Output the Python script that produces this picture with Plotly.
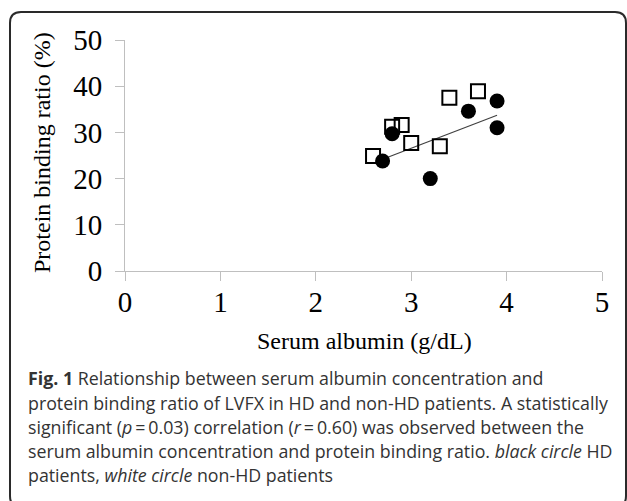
import plotly.graph_objects as go

# ---- data ----
hd_albumin = [2.7, 2.8, 3.2, 3.6, 3.9, 3.9]
hd_binding = [23.8, 29.7, 20.0, 34.6, 36.8, 31.0]
nonhd_albumin = [2.6, 2.8, 2.9, 3.0, 3.3, 3.4, 3.7]
nonhd_binding = [24.9, 31.2, 31.6, 27.7, 27.0, 37.5, 38.9]
trend_albumin = [2.7, 3.9]
trend_binding = [24.2, 33.7]
x_ticks = [0, 1, 2, 3, 4, 5]
y_ticks = [0, 10, 20, 30, 40, 50]
x_title = "Serum albumin (g/dL)"
y_title = "Protein binding ratio (%)"
caption_lines = [
    "<b>Fig. 1</b> Relationship between serum albumin concentration and",
    "protein binding ratio of LVFX in HD and non-HD patients. A statistically",
    "significant (<i>p</i>\u2009=\u20090.03) correlation (<i>r</i>\u2009=\u20090.60) was observed between the",
    "serum albumin concentration and protein binding ratio. <i>black circle</i> HD",
    "patients, <i>white circle</i> non-HD patients",
]

W, H = 627, 501
L, R, T, B = 125, 25, 40, 230
PW, PH = W - L - R, H - T - B


def px2x(px):
    return (px - L) / PW


def py2y(py):
    return (H - B - py) / PH


fig = go.Figure()
fig.add_trace(go.Scatter(
    x=trend_albumin, y=trend_binding, mode="lines",
    line=dict(color="#404040", width=1.2), showlegend=False, hoverinfo="skip"))
fig.add_trace(go.Scatter(
    x=nonhd_albumin, y=nonhd_binding, mode="markers", name="non-HD",
    marker=dict(symbol="square-open", size=14, color="black",
                line=dict(color="black", width=2)),
    showlegend=False))
fig.add_trace(go.Scatter(
    x=hd_albumin, y=hd_binding, mode="markers", name="HD",
    marker=dict(symbol="circle", size=15, color="black", line=dict(width=0)),
    showlegend=False))

axis_common = dict(
    showgrid=False, zeroline=False, showline=True, linecolor="#bfbfbf", linewidth=1,
    ticks="outside", ticklen=9, tickcolor="#bfbfbf", tickwidth=1,
    tickfont=dict(family="Liberation Serif", size=29, color="black"),
)
fig.update_xaxes(range=[0, 5], tickvals=x_ticks, ticklabelstandoff=-4, **axis_common)
fig.update_yaxes(range=[0, 50], tickvals=y_ticks, ticklabelstandoff=7, **axis_common)

annotations = [
    dict(text=x_title, x=px2x(364), y=py2y(341), xref="paper", yref="paper",
         showarrow=False, xanchor="center", yanchor="middle",
         font=dict(family="Liberation Serif", size=24, color="black")),
    dict(text=y_title, x=px2x(42), y=py2y(153), xref="paper", yref="paper",
         showarrow=False, xanchor="center", yanchor="middle", textangle=-90,
         font=dict(family="Liberation Serif", size=24, color="black")),
]
line_centers = [378, 403, 427, 451, 475]
for txt, yc in zip(caption_lines, line_centers):
    annotations.append(dict(
        text=txt, x=px2x(26), y=py2y(yc), xref="paper", yref="paper",
        showarrow=False, xanchor="left", yanchor="middle", align="left",
        font=dict(family="Open Sans", size=17.8, color="#333333")))

# rounded frame around the figure
x0, x1, y0, y1, rr = 10, 626, 12, 507, 11
path = (f"M {px2x(x0 + rr)},{py2y(y0)} L {px2x(x1 - rr)},{py2y(y0)} "
        f"Q {px2x(x1)},{py2y(y0)} {px2x(x1)},{py2y(y0 + rr)} "
        f"L {px2x(x1)},{py2y(y1 - rr)} Q {px2x(x1)},{py2y(y1)} {px2x(x1 - rr)},{py2y(y1)} "
        f"L {px2x(x0 + rr)},{py2y(y1)} Q {px2x(x0)},{py2y(y1)} {px2x(x0)},{py2y(y1 - rr)} "
        f"L {px2x(x0)},{py2y(y0 + rr)} Q {px2x(x0)},{py2y(y0)} {px2x(x0 + rr)},{py2y(y0)} Z")

fig.update_layout(
    width=W, height=H, margin=dict(l=L, r=R, t=T, b=B),
    paper_bgcolor="white", plot_bgcolor="white",
    annotations=annotations,
    shapes=[dict(type="path", path=path, xref="paper", yref="paper",
                 line=dict(color="#2a2a2a", width=2), fillcolor="rgba(0,0,0,0)")],
)

fig.write_html("out.html")
